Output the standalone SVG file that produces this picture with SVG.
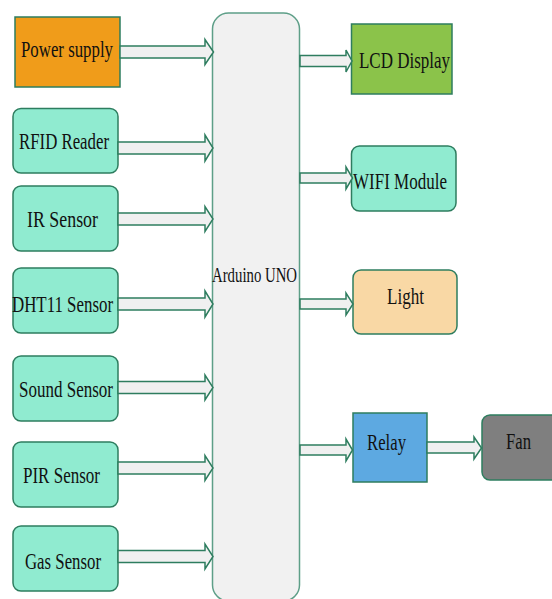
<svg xmlns="http://www.w3.org/2000/svg" width="552" height="599" viewBox="0 0 552 599" font-family="'Liberation Serif', 'Times New Roman', 'DejaVu Serif', serif">
<style>
.n{stroke:#2E7D5F;stroke-width:1.5}
.mint{fill:#90EBD0}
.ar{fill:#F0F0F0;stroke:#2E7D5F;stroke-width:1.5;stroke-linejoin:miter}
.t{font-family:'Liberation Serif', serif;font-size:23px;fill:#111}
</style>
<rect width="552" height="599" fill="#ffffff"/>
<g id="arduino"><rect x="212.5" y="13" width="87" height="588" rx="16" fill="#F1F1F1" stroke="#5E9F88" stroke-width="1.5"/><text class="t" x="212" y="282" textLength="85" lengthAdjust="spacingAndGlyphs" style="font-size:20px">Arduino UNO</text></g>
<g id="power"><rect class="n" x="15" y="17" width="105" height="70" fill="#F09C1A"/><text class="t" x="21" y="57" textLength="92" lengthAdjust="spacingAndGlyphs">Power supply</text></g>
<g id="rfid"><rect class="n mint" x="13" y="108.5" width="105" height="64.5" rx="8"/><text class="t" x="19" y="149" textLength="90" lengthAdjust="spacingAndGlyphs">RFID Reader</text></g>
<g id="ir"><rect class="n mint" x="13" y="186" width="105" height="65" rx="8"/><text class="t" x="27" y="227" textLength="71" lengthAdjust="spacingAndGlyphs">IR Sensor</text></g>
<g id="dht11"><rect class="n mint" x="13" y="268" width="105" height="65" rx="8"/><text class="t" x="12" y="312" textLength="101" lengthAdjust="spacingAndGlyphs">DHT11 Sensor</text></g>
<g id="sound"><rect class="n mint" x="13" y="356" width="105" height="65" rx="8"/><text class="t" x="19" y="397" textLength="94" lengthAdjust="spacingAndGlyphs">Sound Sensor</text></g>
<g id="pir"><rect class="n mint" x="13" y="442" width="105" height="65" rx="8"/><text class="t" x="23" y="483" textLength="77" lengthAdjust="spacingAndGlyphs">PIR Sensor</text></g>
<g id="gas"><rect class="n mint" x="13" y="526" width="105" height="65" rx="8"/><text class="t" x="25" y="569" textLength="76" lengthAdjust="spacingAndGlyphs">Gas Sensor</text></g>
<g id="lcd"><rect class="n" x="351.5" y="24" width="100.5" height="70" fill="#8BC34A"/><text class="t" x="359" y="68" textLength="91" lengthAdjust="spacingAndGlyphs">LCD Display</text></g>
<g id="wifi"><rect class="n mint" x="351.5" y="146" width="104.5" height="65" rx="8"/><text class="t" x="353" y="189" textLength="94" lengthAdjust="spacingAndGlyphs">WIFI Module</text></g>
<g id="light"><rect class="n" x="353" y="270" width="104" height="64" rx="8" fill="#F9D8A5"/><text class="t" x="387" y="304" textLength="37" lengthAdjust="spacingAndGlyphs">Light</text></g>
<g id="relay"><rect class="n" x="353" y="413" width="74" height="69" fill="#5DA9E1"/><text class="t" x="367" y="450" textLength="39" lengthAdjust="spacingAndGlyphs">Relay</text></g>
<g id="fan"><rect class="n" x="482" y="415" width="80" height="65" rx="8" fill="#7F7F7F"/><text class="t" x="506" y="449" textLength="25" lengthAdjust="spacingAndGlyphs">Fan</text></g>
<g id="connectors">
<polygon class="ar" points="120,46 205,46 205,39.5 213.5,52 205,64.5 205,58 120,58"/>
<polygon class="ar" points="118,142 205,142 205,135 213,148 205,161 205,154 118,154"/>
<polygon class="ar" points="118,213 205,213 205,206.5 213,219 205,231.5 205,225 118,225"/>
<polygon class="ar" points="118,298 205,298 205,291 213,304 205,317 205,310 118,310"/>
<polygon class="ar" points="118,381.5 205,381.5 205,375 213,387.5 205,400 205,393.5 118,393.5"/>
<polygon class="ar" points="118,462 205,462 205,455.5 213,468 205,480.5 205,474 118,474"/>
<polygon class="ar" points="118,550.5 205,550.5 205,544 213,556.5 205,569 205,562.5 118,562.5"/>
<polygon class="ar" points="300,55.5 346,55.5 346,50 352,61 346,72 346,66.5 300,66.5"/>
<polygon class="ar" points="300,173 346,173 346,167 352.5,178 346,189 346,183 300,183"/>
<polygon class="ar" points="300,299 346,299 346,293 353,304 346,315 346,309 300,309"/>
<polygon class="ar" points="300,445 346,445 346,439 352.5,450 346,461 346,455 300,455"/>
<polygon class="ar" points="427,442 474,442 474,437 481.5,448 474,459 474,453 427,453"/>
</g>
</svg>
